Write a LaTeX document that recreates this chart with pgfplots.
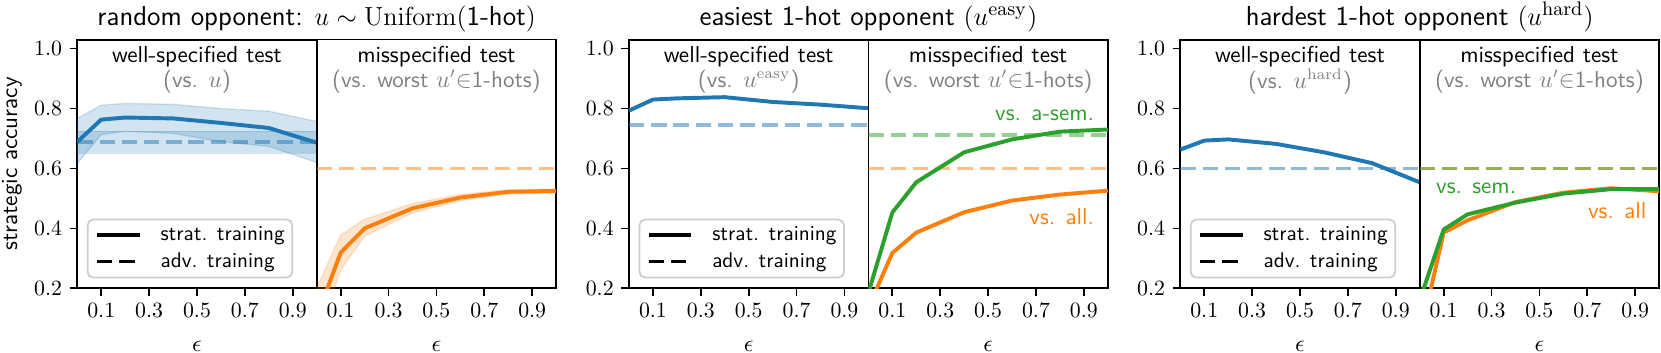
\documentclass[border=0pt]{standalone}
\usepackage{pgfplots}
\pgfplotsset{compat=1.18}
\renewcommand{\familydefault}{\sfdefault}
\definecolor{tabblue}{HTML}{1F77B4}
\definecolor{taborange}{HTML}{FF7F0E}
\definecolor{tabgreen}{HTML}{2CA02C}
\definecolor{txtgray}{HTML}{808080}
\definecolor{leggray}{HTML}{CCCCCC}
\newcommand{\txt}{\fontsize{10.6}{12.7}\selectfont}
\newcommand{\ttl}{\fontsize{12.6}{15}\selectfont}
\tikzset{hd/.style={font=\txt, inner sep=0.5pt}}
\pgfplotsset{
 sub/.style={
  scale only axis, width=109.82pt, height=114.08pt, anchor=south west,
  xmin=0, xmax=1, ymin=0.2, ymax=1.03,
  xtick={0.1,0.3,0.5,0.7,0.9},
  xticklabel style={/pgf/number format/.cd, fixed, fixed zerofill, precision=1},
  tick align=outside, major tick length=3.5pt, xtick pos=bottom,
  every tick/.style={black, line width=0.8pt},
  axis line style={line width=0.8pt},
  ticklabel style={font=\fontsize{10}{12}\selectfont},
  xlabel={$\epsilon$},
  label style={font=\txt},
  xlabel style={at={(axis description cs:0.5,0)}, anchor=center, yshift=-26.5pt, inner sep=0pt},
  clip=true,
 },
 subL/.style={sub, ytick={0.2,0.4,0.6,0.8,1.0}, ytick pos=left,
  yticklabel style={/pgf/number format/.cd, fixed, fixed zerofill, precision=1},
  legend style={at={(0.04,0.04)}, anchor=south west, font=\fontsize{9.75}{11.5}\selectfont,
   draw=leggray, line width=0.8pt, rounded corners=2.5pt, fill=white, fill opacity=0.8,
   text opacity=1, inner xsep=3.4pt, inner ysep=3.2pt, row sep=4pt, column sep=0pt,
   nodes={inner sep=0pt, text depth=0.15em}, cells={anchor=west}},
  legend image code/.code={\draw[##1] (0pt,0pt) -- (19.5pt,0pt); \path (28.2pt,0pt);},
 },
 subR/.style={sub, ytick=\empty},
 sline/.style={line width=1.8pt, line join=round, forget plot},
 dline/.style={line width=1.8pt, dash pattern=on 7pt off 3.2pt, opacity=0.5, forget plot},
 band/.style={fill=#1, draw=#1, fill opacity=0.2, draw opacity=0.2, line width=0.6pt, forget plot},
}
\newcommand{\legendlines}{%
 \addlegendimage{black, line width=1.8pt}\addlegendentry{strat. training}
 \addlegendimage{black, line width=1.8pt, dash pattern=on 7pt off 3.2pt}\addlegendentry{adv. training}}
\begin{document}
\begin{tikzpicture}
\path[use as bounding box] (0,0) rectangle (761.93pt,161.47pt);
% ---------------- Panel 1
\node[font=\ttl, anchor=base, inner sep=0pt] at (145.28pt,150pt) {random opponent: $u\sim\mathrm{Uniform}(\mbox{1-hot})$};
\begin{axis}[subL, at={(35.46pt,29.22pt)}, ylabel={strategic accuracy},
  ylabel style={at={(axis description cs:-0.2728,0.5)}, anchor=center, inner sep=0pt}]
\addplot[band=tabblue] coordinates {(0,0.767)(0.1,0.811)(0.2,0.817)(0.4,0.814)(0.6,0.800)(0.8,0.791)(1.0,0.757)
 (1.0,0.620)(0.8,0.674)(0.6,0.689)(0.4,0.717)(0.2,0.724)(0.1,0.713)(0,0.617)} -- cycle;
\addplot[band=tabblue] coordinates {(0,0.724)(1,0.724)(1,0.650)(0,0.650)} -- cycle;
\addplot[dline, tabblue] coordinates {(0,0.687)(1,0.687)};
\addplot[sline, tabblue] coordinates {(0,0.689)(0.1,0.763)(0.2,0.770)(0.4,0.767)(0.6,0.752)(0.8,0.735)(1.0,0.686)};
\legendlines
\node[hd] at (axis cs:0.5,0.972) {well-specified test};
\node[hd, text=txtgray] at (axis cs:0.5,0.889) {(vs. $u$)};
\end{axis}
\begin{axis}[subR, at={(145.28pt,29.22pt)}]
\addplot[band=taborange] coordinates {(0,0.2)(0.1,0.378)(0.2,0.43)(0.4,0.483)(0.6,0.513)(0.8,0.529)(1.0,0.531)
 (1.0,0.519)(0.8,0.515)(0.6,0.493)(0.4,0.452)(0.2,0.374)(0.1,0.261)(0,0.03)} -- cycle;
\addplot[dline, taborange] coordinates {(0,0.6)(1,0.6)};
\addplot[sline, taborange] coordinates {(0,0.103)(0.1,0.319)(0.2,0.4)(0.4,0.467)(0.6,0.503)(0.8,0.522)(1.0,0.525)};
\node[hd] at (axis cs:0.5,0.972) {misspecified test};
\node[hd, text=txtgray] at (axis cs:0.5,0.889) {(vs. worst $u'{\in}$1-hots)};
\end{axis}
% ---------------- Panel 2
\node[font=\ttl, anchor=base, inner sep=0pt] at (398.35pt,150pt) {easiest 1-hot opponent $(u^{\mathrm{easy}})$};
\begin{axis}[subL, at={(288.53pt,29.22pt)}]
\addplot[dline, tabblue] coordinates {(0,0.744)(1,0.744)};
\addplot[sline, tabblue] coordinates {(0,0.793)(0.1,0.830)(0.2,0.834)(0.4,0.838)(0.6,0.822)(0.8,0.813)(1.0,0.801)};
\legendlines
\node[hd] at (axis cs:0.5,0.972) {well-specified test};
\node[hd, text=txtgray] at (axis cs:0.5,0.889) {(vs. $u^{\mathrm{easy}}$)};
\end{axis}
\begin{axis}[subR, at={(398.35pt,29.22pt)}]
\addplot[dline, taborange] coordinates {(0,0.6)(1,0.6)};
\addplot[dline, tabgreen] coordinates {(0,0.712)(1,0.712)};
\addplot[sline, taborange] coordinates {(0,0.136)(0.1,0.318)(0.2,0.386)(0.4,0.454)(0.6,0.493)(0.8,0.513)(1.0,0.526)};
\addplot[sline, tabgreen] coordinates {(0,0.185)(0.1,0.453)(0.2,0.554)(0.4,0.654)(0.6,0.697)(0.8,0.723)(1.0,0.730)};
\node[hd] at (axis cs:0.5,0.972) {misspecified test};
\node[hd, text=txtgray] at (axis cs:0.5,0.889) {(vs. worst $u'{\in}$1-hots)};
\node[font=\txt, text=tabgreen, anchor=east, xshift=-2.75pt] at (axis cs:1,0.778) {vs. a-sem.};
\node[font=\txt, text=taborange, anchor=east, xshift=-2.75pt] at (axis cs:1,0.439) {vs. all.};
\end{axis}
% ---------------- Panel 3
\node[font=\ttl, anchor=base, inner sep=0pt] at (651.24pt,150pt) {hardest 1-hot opponent $(u^{\mathrm{hard}})$};
\begin{axis}[subL, at={(541.42pt,29.22pt)}]
\addplot[dline, tabblue] coordinates {(0,0.6)(1,0.6)};
\addplot[sline, tabblue] coordinates {(0,0.663)(0.1,0.693)(0.2,0.697)(0.4,0.682)(0.6,0.654)(0.8,0.618)(1.0,0.554)};
\legendlines
\node[hd] at (axis cs:0.5,0.972) {well-specified test};
\node[hd, text=txtgray] at (axis cs:0.5,0.889) {(vs. $u^{\mathrm{hard}}$)};
\end{axis}
\begin{axis}[subR, at={(651.24pt,29.22pt)}]
\addplot[dline, taborange] coordinates {(0,0.6)(1,0.6)};
\addplot[dline, tabgreen] coordinates {(0,0.6)(1,0.6)};
\addplot[sline, taborange] coordinates {(0,0.035)(0.1,0.386)(0.2,0.427)(0.4,0.488)(0.6,0.519)(0.8,0.534)(1.0,0.524)};
\addplot[sline, tabgreen] coordinates {(0,0.160)(0.1,0.396)(0.2,0.447)(0.4,0.486)(0.6,0.516)(0.8,0.531)(1.0,0.531)};
\node[hd] at (axis cs:0.5,0.972) {misspecified test};
\node[hd, text=txtgray] at (axis cs:0.5,0.889) {(vs. worst $u'{\in}$1-hots)};
\node[font=\txt, text=tabgreen, anchor=west, xshift=4pt] at (axis cs:0,0.533) {vs. sem.};
\node[font=\txt, text=taborange, anchor=east, xshift=-2.3pt] at (axis cs:1,0.459) {vs. all};
\end{axis}
\end{tikzpicture}
\end{document}
